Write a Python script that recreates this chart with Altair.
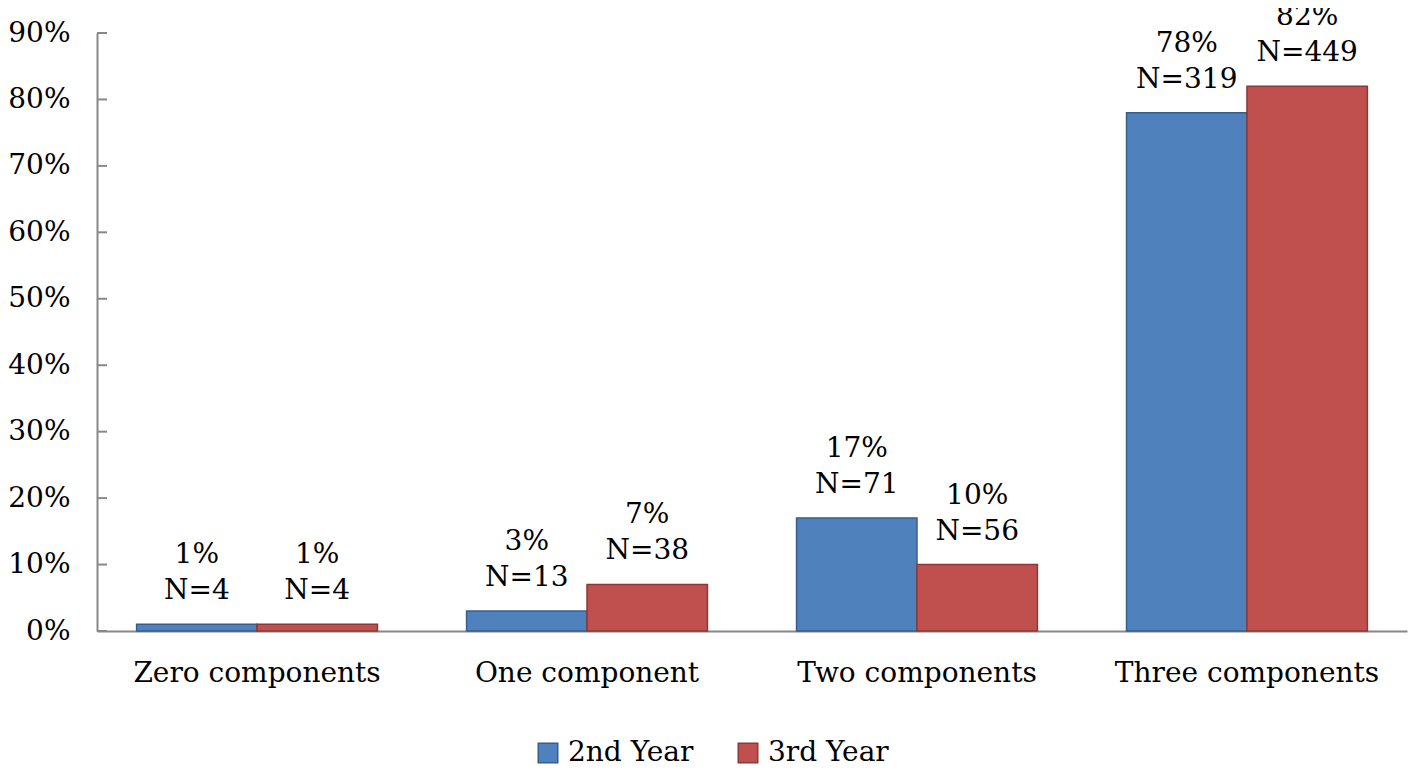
import altair as alt
import pandas as pd

categories = ["Zero components", "One component", "Two components", "Three components"]
series = ["2nd Year", "3rd Year"]
year2_pct = [1, 3, 17, 78]
year3_pct = [1, 7, 10, 82]
year2_n = [4, 13, 71, 319]
year3_n = [4, 38, 56, 449]
y_ticks = [0, 10, 20, 30, 40, 50, 60, 70, 80, 90]

rows = []
for i, c in enumerate(categories):
    rows.append({"cat": c, "series": series[0], "pct": year2_pct[i],
                 "plabel": f"{year2_pct[i]}%", "nlabel": f"N={year2_n[i]}"})
    rows.append({"cat": c, "series": series[1], "pct": year3_pct[i],
                 "plabel": f"{year3_pct[i]}%", "nlabel": f"N={year3_n[i]}"})
df = pd.DataFrame(rows)
ticks_df = pd.DataFrame({"t": y_ticks})

FONT = "DejaVu Serif"
FS = 28

xscale = alt.Scale(domain=categories, paddingInner=0.27, paddingOuter=0.12)
yscale = alt.Scale(domain=[0, 90], nice=False)
colors = alt.Scale(domain=series, range=["#4F81BD", "#C0504D"])
strokes = alt.Scale(domain=series, range=["#385D8A", "#8C3836"])

x = alt.X("cat:N", scale=xscale, sort=categories,
          axis=alt.Axis(title=None, labelAngle=0, ticks=False, labelFont=FONT,
                        labelFontSize=FS, labelColor="#000000", labelPadding=28,
                        labelLimit=500,
                        domainColor="#888888", domainWidth=2))
y = alt.Y("pct:Q", scale=yscale,
          axis=alt.Axis(title=None, values=y_ticks, ticks=False, grid=False,
                        labelExpr="datum.value + '%'", labelFont=FONT, labelFontSize=FS,
                        labelColor="#000000", labelPadding=27,
                        domainColor="#888888", domainWidth=2))

bars = alt.Chart(df).mark_bar(strokeWidth=1.5).encode(
    x=x,
    xOffset=alt.XOffset("series:N", sort=series),
    y=y,
    color=alt.Color("series:N", scale=colors,
                    legend=alt.Legend(title=None, orient="none", direction="horizontal",
                                      legendX=437, legendY=706, symbolType="square",
                                      symbolSize=380, symbolStrokeWidth=1.5,
                                      labelFont=FONT, labelFontSize=FS, labelColor="#000000",
                                      columnPadding=40, labelOffset=6)),
    stroke=alt.Stroke("series:N", scale=strokes, legend=None),
)

nlabels = alt.Chart(df).mark_text(baseline="alphabetic", dy=-25,
                                  font=FONT, fontSize=FS, color="#000000").encode(
    x=alt.X("cat:N", scale=xscale, sort=categories),
    xOffset=alt.XOffset("series:N", sort=series),
    y=alt.Y("pct:Q", scale=yscale),
    text="nlabel:N",
)

plabels = alt.Chart(df).mark_text(baseline="alphabetic", dy=-61,
                                  font=FONT, fontSize=FS, color="#000000").encode(
    x=alt.X("cat:N", scale=xscale, sort=categories),
    xOffset=alt.XOffset("series:N", sort=series),
    y=alt.Y("pct:Q", scale=yscale),
    text="plabel:N",
)

tick_marks = alt.Chart(ticks_df).mark_rule(color="#888888", strokeWidth=2).encode(
    x=alt.value(0), x2=alt.value(10),
    y=alt.Y("t:Q", scale=yscale),
)

chart = alt.layer(bars, nlabels, plabels, tick_marks).properties(
    width=1310, height=598, background="#ffffff",
    autosize=alt.AutoSizeParams(type="none"),
    padding={"left": 89, "top": 25, "right": 3, "bottom": 134}
).configure_view(stroke=None)

chart.save("out.html", embed_options={"renderer": "svg", "actions": False})
